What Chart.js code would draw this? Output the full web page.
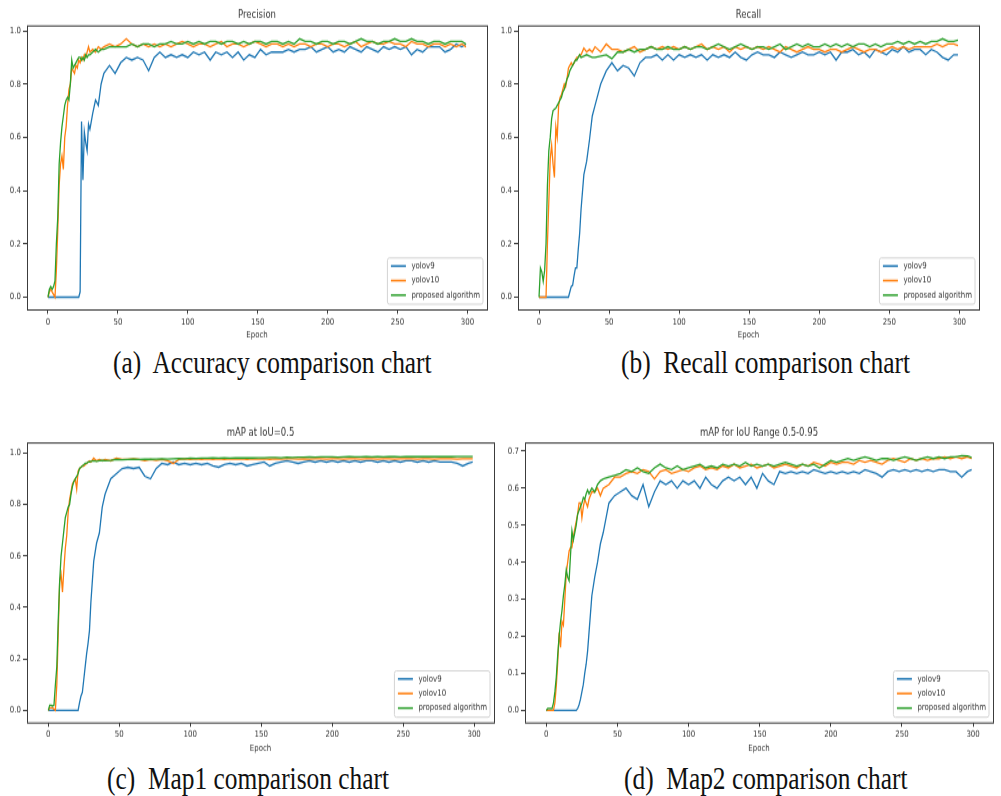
<!DOCTYPE html>
<html>
<head>
<meta charset="utf-8">
<script src="https://cdn.jsdelivr.net/npm/chart.js@4.4.1/dist/chart.umd.min.js"></script>
<style>
  body { margin: 0; background: #fff; width: 1001px; height: 796px; overflow: hidden; position: relative; }
  canvas.panel { position: absolute; }
  .cap {
    position: absolute; font-family: "Liberation Serif", "Times New Roman", serif;
    font-size: 25.4px; line-height: 25px; color: #111; white-space: pre;
    transform: scaleY(1.27); transform-origin: 0 50%;
  }
</style>
</head>
<body>
<canvas id="chartA" class="panel" width="500" height="266" style="left:0;top:0;width:500px;height:340px"></canvas>
<canvas id="chartB" class="panel" width="501" height="266" style="left:500px;top:0;width:501px;height:340px"></canvas>
<canvas id="chartC" class="panel" width="500" height="278" style="left:0;top:400px;width:500px;height:356px"></canvas>
<canvas id="chartD" class="panel" width="501" height="278" style="left:500px;top:400px;width:501px;height:356px"></canvas>
<div class="cap" style="left:113px;top:350px">(a)  Accuracy comparison chart</div>
<div class="cap" style="left:621px;top:350px">(b)  Recall comparison chart</div>
<div class="cap" style="left:107px;top:766px">(c)  Map1 comparison chart</div>
<div class="cap" style="left:624px;top:766px">(d)  Map2 comparison chart</div>
<script>
// epochs sampled: every epoch up to 30, then every 2, then every 4
var epochs = [0,1,2,3,4,5,6,7,8,9,10,11,12,13,14,15,16,17,18,19,20,21,22,23,24,25,26,27,28,29,30,
  32,34,36,38,
  40,44,48,52,56,60,64,68,72,76,
  80,84,88,92,96,100,104,108,112,116,
  120,124,128,132,136,140,144,148,152,156,
  160,164,168,172,176,180,184,188,192,196,
  200,204,208,212,216,220,224,228,232,236,
  240,244,248,252,256,260,264,268,272,276,
  280,284,288,292,296,299];

var seriesNames = ["yolov9", "yolov10", "proposed algorithm"];
var epochTicks = [0, 50, 100, 150, 200, 250, 300];
var unitTicks = [0, 0.2, 0.4, 0.6, 0.8, 1.0];
var map95Ticks = [0, 0.1, 0.2, 0.3, 0.4, 0.5, 0.6, 0.7];

// Precision
var precYolov9 = [0,0,0,0,0,0,0,0,0,0, 0,0,0,0,0,0,0,0,0,0, 0,0,0,0.02,0.66,0.44,0.62,0.58,0.55,0.65,0.63,
  0.69,0.74,0.72,0.8,
  0.84,0.87,0.84,0.88,0.9,0.89,0.9,0.89,0.85,0.9,
  0.92,0.9,0.91,0.9,0.91,0.9,0.92,0.91,0.92,0.89,
  0.92,0.91,0.92,0.9,0.92,0.89,0.91,0.9,0.93,0.91,
  0.92,0.92,0.92,0.93,0.92,0.93,0.93,0.94,0.92,0.93,
  0.94,0.92,0.93,0.92,0.94,0.93,0.92,0.94,0.93,0.92,
  0.94,0.93,0.94,0.93,0.94,0.91,0.93,0.92,0.94,0.94,
  0.94,0.92,0.93,0.95,0.94,0.95];
var precYolov10 = [0,0.02,0.03,0.02,0.01,0,0.1,0.25,0.42,0.5, 0.53,0.48,0.6,0.64,0.72,0.78,0.8,0.86,0.85,0.84, 0.87,0.86,0.89,0.88,0.9,0.89,0.91,0.9,0.92,0.94,0.92,
  0.93,0.92,0.94,0.93,
  0.94,0.95,0.94,0.95,0.97,0.95,0.94,0.95,0.94,0.95,
  0.94,0.95,0.94,0.95,0.96,0.95,0.94,0.95,0.95,0.94,
  0.95,0.96,0.94,0.95,0.95,0.94,0.95,0.96,0.95,0.94,
  0.95,0.95,0.94,0.95,0.94,0.95,0.95,0.94,0.95,0.95,
  0.94,0.95,0.95,0.94,0.95,0.96,0.94,0.95,0.96,0.95,
  0.95,0.96,0.95,0.95,0.94,0.96,0.95,0.95,0.94,0.95,
  0.95,0.94,0.95,0.94,0.95,0.94];
var precProposed = [0,0.03,0.04,0.03,0.04,0.06,0.2,0.3,0.5,0.58, 0.64,0.68,0.72,0.74,0.75,0.74,0.8,0.89,0.86,0.87, 0.88,0.89,0.9,0.9,0.89,0.9,0.89,0.91,0.9,0.91,0.91,
  0.92,0.93,0.92,0.93,
  0.93,0.94,0.94,0.94,0.94,0.95,0.94,0.95,0.95,0.94,
  0.95,0.95,0.96,0.95,0.95,0.96,0.95,0.96,0.95,0.96,
  0.96,0.95,0.96,0.96,0.95,0.96,0.95,0.96,0.96,0.95,
  0.96,0.96,0.95,0.96,0.95,0.97,0.96,0.96,0.95,0.96,
  0.96,0.95,0.96,0.96,0.95,0.96,0.97,0.96,0.96,0.95,
  0.96,0.96,0.97,0.96,0.96,0.97,0.96,0.96,0.95,0.96,
  0.96,0.95,0.96,0.96,0.96,0.95];

// Recall
var recallYolov9 = [0,0,0,0,0,0,0,0,0,0, 0,0,0,0,0,0,0,0,0,0, 0,0,0.02,0.04,0.045,0.08,0.11,0.11,0.18,0.24,0.33,
  0.46,0.51,0.59,0.68,
  0.72,0.8,0.85,0.88,0.85,0.87,0.86,0.83,0.88,0.9,
  0.9,0.91,0.89,0.91,0.89,0.91,0.9,0.91,0.9,0.91,
  0.89,0.91,0.9,0.91,0.9,0.92,0.9,0.89,0.91,0.92,
  0.91,0.91,0.9,0.92,0.91,0.9,0.91,0.92,0.91,0.91,
  0.92,0.91,0.92,0.89,0.92,0.92,0.93,0.91,0.92,0.9,
  0.93,0.92,0.91,0.93,0.92,0.94,0.92,0.93,0.93,0.91,
  0.93,0.92,0.9,0.89,0.91,0.91];
var recallYolov10 = [0,0,0,0,0,0,0.2,0.36,0.52,0.57, 0.5,0.45,0.64,0.6,0.72,0.75,0.76,0.78,0.8,0.79, 0.82,0.86,0.87,0.88,0.87,0.88,0.89,0.9,0.9,0.91,0.91,
  0.935,0.92,0.93,0.92,
  0.94,0.92,0.95,0.93,0.93,0.92,0.93,0.94,0.92,0.93,
  0.94,0.93,0.94,0.93,0.94,0.93,0.94,0.93,0.94,0.95,
  0.93,0.94,0.93,0.94,0.92,0.94,0.93,0.94,0.93,0.94,
  0.93,0.94,0.93,0.92,0.94,0.93,0.92,0.93,0.94,0.93,
  0.93,0.92,0.93,0.93,0.92,0.93,0.94,0.93,0.92,0.93,
  0.93,0.92,0.93,0.94,0.93,0.94,0.93,0.94,0.94,0.94,
  0.94,0.95,0.94,0.95,0.95,0.945];
var recallProposed = [0,0.11,0.095,0.06,0.1,0.2,0.42,0.55,0.6,0.67, 0.7,0.705,0.71,0.72,0.73,0.74,0.75,0.77,0.78,0.8, 0.82,0.83,0.85,0.86,0.87,0.88,0.89,0.89,0.9,0.91,0.9,
  0.905,0.91,0.905,0.9,
  0.9,0.905,0.91,0.895,0.92,0.92,0.93,0.92,0.93,0.93,
  0.94,0.93,0.93,0.94,0.93,0.93,0.94,0.93,0.94,0.94,
  0.93,0.94,0.95,0.94,0.93,0.94,0.95,0.94,0.93,0.94,
  0.94,0.93,0.94,0.95,0.93,0.94,0.95,0.94,0.95,0.94,
  0.94,0.95,0.94,0.95,0.94,0.95,0.94,0.95,0.95,0.94,
  0.95,0.94,0.95,0.95,0.96,0.95,0.96,0.95,0.96,0.95,
  0.96,0.96,0.97,0.96,0.96,0.965];

// mAP at IoU=0.5
var map50Yolov9 = [0,0,0,0,0,0,0,0,0,0, 0,0,0,0,0,0,0,0,0,0, 0,0,0.03,0.055,0.07,0.12,0.17,0.22,0.26,0.31,0.42,
  0.58,0.65,0.69,0.79,
  0.84,0.9,0.92,0.94,0.945,0.94,0.945,0.91,0.9,0.94,
  0.96,0.955,0.965,0.955,0.96,0.955,0.96,0.955,0.96,0.95,
  0.945,0.955,0.96,0.955,0.96,0.95,0.955,0.96,0.965,0.95,
  0.96,0.965,0.97,0.965,0.96,0.965,0.97,0.965,0.97,0.965,
  0.97,0.965,0.97,0.965,0.97,0.965,0.97,0.97,0.965,0.97,
  0.965,0.97,0.965,0.97,0.97,0.965,0.97,0.965,0.97,0.965,
  0.965,0.965,0.96,0.95,0.96,0.965];
var map50Yolov10 = [0,0.01,0.01,0.01,0.005,0,0.1,0.3,0.5,0.53, 0.46,0.55,0.63,0.68,0.77,0.82,0.85,0.88,0.89,0.9, 0.86,0.93,0.94,0.945,0.95,0.95,0.955,0.96,0.965,0.97,0.965,
  0.98,0.97,0.975,0.97,
  0.975,0.97,0.98,0.975,0.975,0.978,0.975,0.97,0.975,0.972,
  0.975,0.97,0.96,0.975,0.978,0.975,0.978,0.975,0.978,0.976,
  0.978,0.975,0.978,0.977,0.978,0.976,0.978,0.977,0.978,0.976,
  0.978,0.977,0.978,0.978,0.977,0.978,0.977,0.978,0.978,0.977,
  0.978,0.978,0.977,0.978,0.978,0.977,0.978,0.978,0.977,0.978,
  0.978,0.977,0.978,0.978,0.978,0.977,0.978,0.978,0.977,0.978,
  0.978,0.978,0.977,0.978,0.978,0.978];
var map50Proposed = [0,0.02,0.02,0.017,0.02,0.1,0.17,0.35,0.5,0.6, 0.65,0.7,0.75,0.77,0.79,0.8,0.84,0.87,0.89,0.9, 0.91,0.92,0.94,0.945,0.95,0.955,0.96,0.96,0.965,0.965,0.968,
  0.97,0.968,0.97,0.972,
  0.97,0.972,0.975,0.974,0.975,0.976,0.975,0.977,0.976,0.977,
  0.978,0.977,0.978,0.979,0.978,0.98,0.979,0.98,0.98,0.981,
  0.98,0.981,0.98,0.982,0.981,0.982,0.981,0.982,0.982,0.983,
  0.983,0.982,0.984,0.983,0.984,0.984,0.985,0.984,0.985,0.985,
  0.985,0.984,0.985,0.986,0.985,0.985,0.986,0.985,0.986,0.985,
  0.986,0.986,0.985,0.986,0.986,0.987,0.986,0.986,0.987,0.986,
  0.987,0.986,0.987,0.987,0.987,0.987];

// mAP for IoU range 0.5-0.95
var map95Yolov9 = [0,0,0,0,0,0,0,0,0,0, 0,0,0,0,0,0,0,0,0,0, 0,0,0.005,0.015,0.03,0.05,0.07,0.1,0.125,0.16,0.21,
  0.31,0.36,0.4,0.45,
  0.48,0.56,0.58,0.59,0.6,0.58,0.57,0.61,0.55,0.59,
  0.62,0.61,0.62,0.6,0.62,0.61,0.62,0.6,0.63,0.61,
  0.6,0.62,0.63,0.62,0.63,0.61,0.63,0.6,0.64,0.62,
  0.61,0.645,0.64,0.645,0.64,0.645,0.64,0.65,0.645,0.64,
  0.645,0.64,0.645,0.64,0.645,0.64,0.65,0.645,0.64,0.63,
  0.645,0.65,0.645,0.65,0.645,0.65,0.645,0.65,0.645,0.65,
  0.65,0.645,0.645,0.63,0.645,0.65];
var map95Yolov10 = [0,0,0,0,0,0,0.02,0.066,0.13,0.21, 0.17,0.24,0.23,0.3,0.37,0.4,0.43,0.44,0.44,0.47, 0.49,0.51,0.53,0.56,0.56,0.52,0.55,0.57,0.56,0.55,0.57,
  0.59,0.59,0.6,0.58,
  0.6,0.61,0.63,0.63,0.64,0.645,0.64,0.65,0.645,0.625,
  0.645,0.65,0.64,0.645,0.65,0.645,0.655,0.66,0.65,0.655,
  0.65,0.66,0.655,0.665,0.655,0.66,0.665,0.655,0.66,0.665,
  0.655,0.66,0.665,0.66,0.655,0.665,0.66,0.67,0.665,0.66,
  0.67,0.665,0.67,0.67,0.665,0.675,0.67,0.675,0.67,0.665,
  0.675,0.68,0.675,0.67,0.68,0.675,0.68,0.675,0.68,0.68,
  0.685,0.68,0.685,0.68,0.685,0.68];
var map95Proposed = [0,0.005,0.005,0.005,0.005,0.02,0.05,0.09,0.15,0.2, 0.24,0.27,0.31,0.34,0.38,0.36,0.35,0.42,0.485,0.46, 0.48,0.5,0.53,0.54,0.55,0.56,0.575,0.57,0.585,0.595,0.585,
  0.6,0.59,0.61,0.62,
  0.625,0.63,0.635,0.64,0.65,0.645,0.655,0.645,0.64,0.655,
  0.665,0.655,0.65,0.66,0.65,0.655,0.66,0.665,0.655,0.66,
  0.655,0.665,0.66,0.665,0.66,0.67,0.66,0.665,0.66,0.665,
  0.66,0.665,0.67,0.665,0.66,0.665,0.66,0.665,0.655,0.665,
  0.675,0.67,0.675,0.68,0.675,0.68,0.685,0.68,0.675,0.68,
  0.68,0.675,0.68,0.685,0.68,0.675,0.68,0.685,0.68,0.685,
  0.68,0.685,0.685,0.688,0.687,0.683];

var colors = ["#1f77b4", "#ff7f0e", "#2ca02c"];
var FONT = "'DejaVu Sans', sans-serif";
var TEXT = "#333";

// frame, title and legend drawn the matplotlib way
var mplPlugin = {
  id: "mpl",
  afterDatasetsDraw: function (chart, args, opts) {
    var ctx = chart.ctx, a = chart.chartArea;
    ctx.save();
    ctx.strokeStyle = "#3c3c3c";
    ctx.lineWidth = 1;
    ctx.strokeRect(Math.round(a.left) + 0.5, a.top, Math.round(a.right - a.left), a.bottom - a.top);

    ctx.fillStyle = TEXT;
    ctx.font = "8.5px " + FONT;
    ctx.textAlign = "center";
    ctx.textBaseline = "bottom";
    ctx.fillText(opts.title, (a.left + a.right) / 2, a.top - 4);

    var sets = chart.data.datasets;
    ctx.font = "7px " + FONT;
    var tw = 0;
    sets.forEach(function (d) { tw = Math.max(tw, ctx.measureText(d.label).width); });
    var rowH = 11.4, w = tw + 27, h = sets.length * rowH + 2;
    var x = a.right - 4 - w, y = a.bottom - 4.5 - h;
    ctx.beginPath();
    ctx.roundRect(x, y, w, h, 2);
    ctx.fillStyle = "rgba(255,255,255,0.8)";
    ctx.fill();
    ctx.strokeStyle = "#d4d4d4";
    ctx.stroke();
    ctx.textAlign = "left";
    ctx.textBaseline = "middle";
    sets.forEach(function (d, i) {
      var cy = y + 6.3 + i * rowH;
      ctx.beginPath();
      ctx.moveTo(x + 3.5, cy);
      ctx.lineTo(x + 18.5, cy);
      ctx.strokeStyle = d.borderColor;
      ctx.lineWidth = 1.5;
      ctx.stroke();
      ctx.fillStyle = TEXT;
      ctx.fillText(d.label, x + 24, cy);
    });
    ctx.restore();
  }
};

function makeChart(id, title, values, yMin, yMax, yTicks, lay) {
  var datasets = values.map(function (arr, i) {
    return {
      label: seriesNames[i],
      data: epochs.map(function (e, j) { return { x: e, y: arr[j] }; }),
      borderColor: colors[i],
      borderWidth: 1.3,
      pointRadius: 0,
      tension: 0,
      fill: false,
      order: 2 - i
    };
  });
  return new Chart(document.getElementById(id), {
    type: "line",
    data: { datasets: datasets },
    plugins: [mplPlugin],
    options: {
      responsive: false,
      animation: false,
      devicePixelRatio: 1,
      events: [],
      layout: { padding: { top: lay.top, right: lay.right, bottom: lay.bottom, left: 0 } },
      plugins: {
        legend: { display: false },
        tooltip: { enabled: false },
        mpl: { title: title }
      },
      scales: {
        x: {
          type: "linear", min: -15, max: 314,
          afterBuildTicks: function (s) { s.ticks = epochTicks.map(function (v) { return { value: v }; }); },
          afterFit: function (s) { s.height = lay.xHeight; },
          grid: { drawOnChartArea: false, drawTicks: true, tickLength: 3, tickColor: "#3c3c3c" },
          border: { display: false },
          ticks: { color: TEXT, font: { family: FONT, size: 7 }, padding: 2, maxRotation: 0, autoSkip: false,
                   callback: function (v) { return String(v); } },
          title: { display: true, text: "Epoch", color: TEXT, font: { family: FONT, size: 7 }, padding: 0 }
        },
        y: {
          type: "linear", min: yMin, max: yMax,
          afterBuildTicks: function (s) { s.ticks = yTicks.map(function (v) { return { value: v }; }); },
          afterFit: function (s) { s.width = lay.yWidth; },
          grid: { drawOnChartArea: false, drawTicks: true, tickLength: 4, tickColor: "#3c3c3c" },
          border: { display: false },
          ticks: { color: TEXT, font: { family: FONT, size: 7 }, padding: 2,
                   callback: function (v) { return v.toFixed(1); } }
        }
      }
    }
  });
}

makeChart("chartA", "Precision", [precYolov9, precYolov10, precProposed], -0.048, 1.018, unitTicks,
  { top: 20.3, right: 13, bottom: 0, yWidth: 27, xHeight: 23.5 });
makeChart("chartB", "Recall", [recallYolov9, recallYolov10, recallProposed], -0.048, 1.018, unitTicks,
  { top: 20.3, right: 22, bottom: 0, yWidth: 18, xHeight: 23.5 });
makeChart("chartC", "mAP at IoU=0.5", [map50Yolov9, map50Yolov10, map50Proposed], -0.049, 1.039, unitTicks,
  { top: 33.6, right: 6, bottom: 2, yWidth: 27, xHeight: 23.8 });
makeChart("chartD", "mAP for IoU Range 0.5-0.95", [map95Yolov9, map95Yolov10, map95Proposed], -0.034, 0.722, map95Ticks,
  { top: 33.6, right: 8, bottom: 2, yWidth: 25, xHeight: 23.8 });

// sanity check of the hand-entered arrays
var all = { precYolov9: precYolov9, precYolov10: precYolov10, precProposed: precProposed,
  recallYolov9: recallYolov9, recallYolov10: recallYolov10, recallProposed: recallProposed,
  map50Yolov9: map50Yolov9, map50Yolov10: map50Yolov10, map50Proposed: map50Proposed,
  map95Yolov9: map95Yolov9, map95Yolov10: map95Yolov10, map95Proposed: map95Proposed };
var bad = Object.keys(all).filter(function (k) { return all[k].length !== epochs.length; })
  .map(function (k) { return k + ":" + all[k].length; });
if (bad.length) {
  var note = document.createElement("div");
  note.style.cssText = "position:absolute;left:300px;top:150px;color:red;font:12px sans-serif";
  note.textContent = "LEN " + epochs.length + " " + bad.join(" ");
  document.body.appendChild(note);
}
</script>
</body>
</html>
